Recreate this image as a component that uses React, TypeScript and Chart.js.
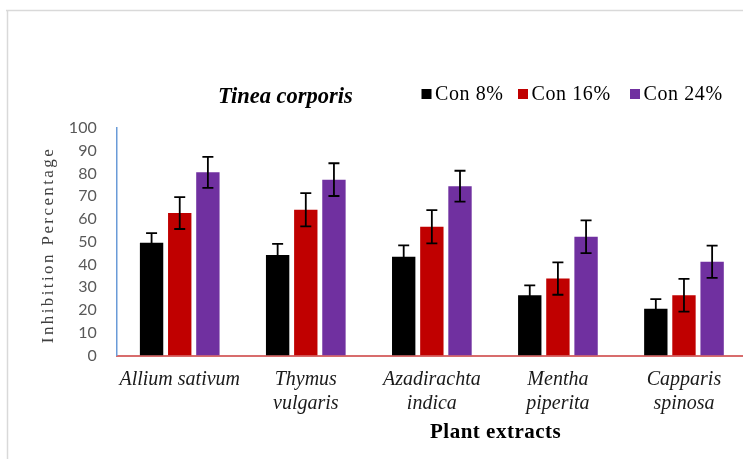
import React, { useEffect, useRef } from "react";
import { Chart, registerables } from "chart.js";

Chart.register(...registerables);

const categories: string[][] = [
  ["Allium sativum"],
  ["Thymus", "vulgaris"],
  ["Azadirachta", "indica"],
  ["Mentha", "piperita"],
  ["Capparis", "spinosa"],
];
const seriesNames = ["Con 8%", "Con 16%", "Con 24%"];
const con8 = [49.6, 44.2, 43.4, 26.5, 20.6];
const con16 = [62.6, 64.1, 56.6, 33.8, 26.5];
const con24 = [80.5, 77.3, 74.4, 52.2, 41.2];
const err8 = [4.2, 4.9, 5.0, 4.3, 4.2];
const err16 = [7.0, 7.3, 7.3, 7.1, 7.2];
const err24 = [6.8, 7.2, 6.8, 7.2, 7.1];
const chartTitle = "Tinea corporis";
const xTitle = "Plant extracts";
const yTitle = "Inhibition Percentage";

const colors = ["#000000", "#c00000", "#7030a0"];
const SERIF = "'Liberation Serif', 'Times New Roman', serif";

const errorBarPlugin = {
  id: "errorBars",
  afterDatasetsDraw(chart: any) {
    const ctx = chart.ctx;
    const yScale = chart.scales.y;
    const errs = [err8, err16, err24];
    ctx.save();
    ctx.strokeStyle = "#000000";
    ctx.lineWidth = 1.8;
    chart.data.datasets.forEach((ds: any, i: number) => {
      const meta = chart.getDatasetMeta(i);
      meta.data.forEach((el: any, j: number) => {
        const v = ds.data[j];
        const e = errs[i][j];
        const x = el.x;
        const yt = yScale.getPixelForValue(v + e);
        const yb = yScale.getPixelForValue(v - e);
        const cap = 5.5;
        ctx.beginPath();
        ctx.moveTo(x, yt);
        ctx.lineTo(x, yb);
        ctx.moveTo(x - cap, yt);
        ctx.lineTo(x + cap, yt);
        ctx.moveTo(x - cap, yb);
        ctx.lineTo(x + cap, yb);
        ctx.stroke();
      });
    });
    ctx.restore();
  },
};

const decorPlugin = {
  id: "decor",
  afterDraw(chart: any) {
    const ctx = chart.ctx;
    ctx.save();
    // frame
    ctx.strokeStyle = "#d9d9d9";
    ctx.lineWidth = 1.5;
    ctx.beginPath();
    ctx.moveTo(6, 10.5);
    ctx.lineTo(chart.width, 10.5);
    ctx.moveTo(7.5, 10);
    ctx.lineTo(7.5, chart.height);
    ctx.stroke();

    // title
    ctx.fillStyle = "#000000";
    ctx.textBaseline = "alphabetic";
    ctx.textAlign = "left";
    ctx.font = `italic bold 22.5px ${SERIF}`;
    ctx.fillText(chartTitle, 218, 103);

    // legend
    const boxX = [421.5, 518, 630];
    ctx.font = `20px ${SERIF}`;
    (ctx as any).letterSpacing = "0.6px";
    chart.data.datasets.forEach((ds: any, i: number) => {
      ctx.fillStyle = ds.backgroundColor;
      ctx.fillRect(boxX[i], 89, 10, 10);
      ctx.fillStyle = "#000000";
      ctx.fillText(ds.label, boxX[i] + 13.5, 100);
    });
    (ctx as any).letterSpacing = "0px";

    // x title
    ctx.font = `bold 21px ${SERIF}`;
    ctx.fillStyle = "#000000";
    (ctx as any).letterSpacing = "0.5px";
    ctx.fillText(xTitle, 430, 437.5);

    // y title
    ctx.translate(49, 245);
    ctx.rotate(-Math.PI / 2);
    ctx.font = `17px ${SERIF}`;
    ctx.fillStyle = "#404040";
    ctx.textAlign = "center";
    ctx.textBaseline = "middle";
    (ctx as any).letterSpacing = "2.4px";
    ctx.fillText(yTitle, 0, 0);
    ctx.restore();
  },
};

export default function App() {
  const ref = useRef<HTMLCanvasElement | null>(null);
  useEffect(() => {
    document.body.style.margin = "0";
    const canvas = ref.current;
    if (!canvas) return;
    const chart = new Chart(canvas, {
      type: "bar",
      data: {
        labels: categories,
        datasets: [con8, con16, con24].map((d, i) => ({
          label: seriesNames[i],
          data: d,
          backgroundColor: colors[i],
          borderWidth: 0,
          categoryPercentage: 0.67,
          barPercentage: 0.83,
        })),
      },
      options: {
        responsive: false,
        animation: false,
        devicePixelRatio: 1,
        layout: { padding: { top: 128, left: 0, right: 0, bottom: 0 } },
        plugins: {
          legend: { display: false },
          title: { display: false },
          tooltip: { enabled: false },
        },
        scales: {
          x: {
            grid: { display: false, drawTicks: false },
            border: { display: true, color: "#d86c6c", width: 2 },
            ticks: {
              autoSkip: false,
              maxRotation: 0,
              minRotation: 0,
              padding: 12,
              color: "#1a1a1a",
              font: { family: SERIF, style: "italic", size: 20, lineHeight: 1.2 },
            },
            afterFit: (s: any) => {
              s.height = 103.5;
            },
          },
          y: {
            min: 0,
            max: 100,
            grid: { display: false, drawTicks: false },
            border: { display: true, color: "#6a9bd8", width: 1.5 },
            ticks: {
              stepSize: 10,
              padding: 20,
              color: "#595959",
              font: { family: "Lato, 'Liberation Sans', sans-serif", size: 16 },
            },
            afterFit: (s: any) => {
              s.width = 116.7;
            },
          },
        },
      },
      plugins: [errorBarPlugin, decorPlugin],
    } as any);
    return () => chart.destroy();
  }, []);
  return (
    <div style={{ position: "relative", width: 743, height: 459, overflow: "hidden", background: "#fff" }}>
      <canvas ref={ref} width={747} height={459} style={{ width: 747, height: 459, display: "block" }} />
    </div>
  );
}
